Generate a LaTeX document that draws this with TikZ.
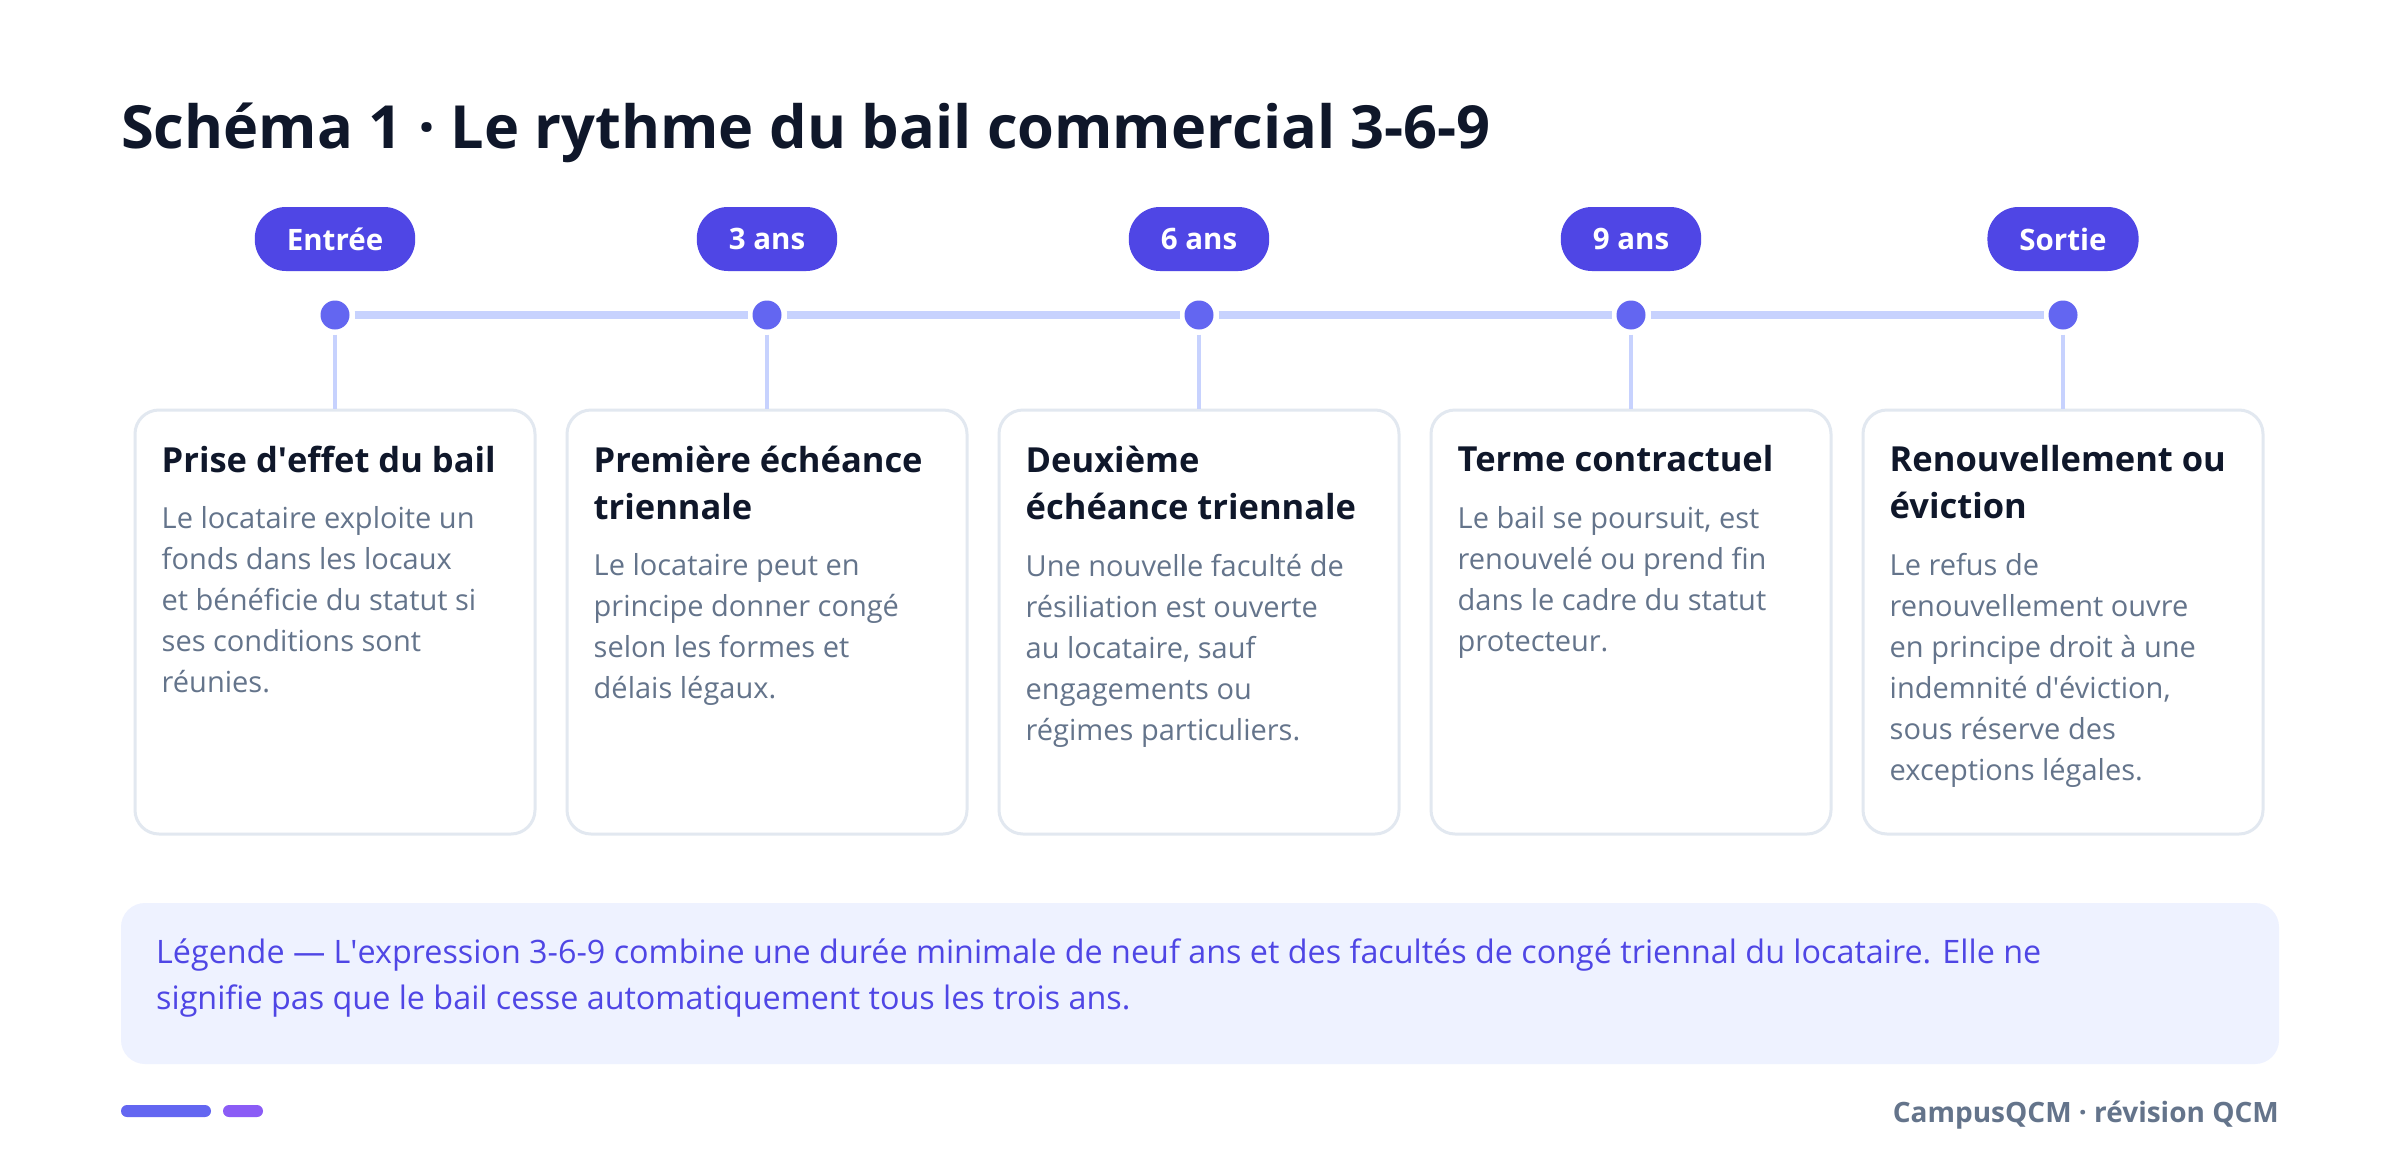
\documentclass[tikz,border=0pt]{standalone}
\usepackage{fontspec}
\setmainfont{Open Sans}
\usetikzlibrary{positioning}
\definecolor{brand}{HTML}{4F46E5}
\definecolor{dotfill}{HTML}{6366F1}
\definecolor{violet}{HTML}{8B5CF6}
\definecolor{track}{HTML}{C7D2FE}
\definecolor{cardline}{HTML}{E2E8F0}
\definecolor{ink}{HTML}{0F172A}
\definecolor{muted}{HTML}{64748B}
\definecolor{legendfill}{HTML}{EEF2FF}
\tikzset{
    % Page title
    page title/.style={
        inner sep=0pt,
        font=\fontsize{59.5}{64}\selectfont\bfseries,
        text=ink
    },
    % Milestone pill
    pill/.style={
        rectangle,
        rounded corners=31pt,
        minimum height=64pt,
        inner xsep=32pt,
        inner ysep=0pt,
        fill=brand,
        text=white,
        font=\fontsize{29.5}{34}\selectfont\bfseries
    },
    % Timeline dot
    milestone/.style={
        circle,
        minimum size=29pt,
        inner sep=0pt,
        outer sep=5pt,
        fill=dotfill
    },
    % Timeline track and stems
    track line/.style={
        line width=8pt,
        color=track
    },
    stem/.style={
        line width=4pt,
        color=track
    },
    % Step card
    card/.style={
        rectangle,
        rounded corners=24pt,
        minimum width=400pt,
        minimum height=424pt,
        draw=cardline,
        fill=white,
        line width=3pt
    },
    card title/.style={
        anchor=north west,
        inner sep=0pt,
        align=left,
        font=\fontsize{34.5}{47}\selectfont\bfseries,
        text=ink
    },
    card text/.style={
        inner sep=0pt,
        align=left,
        font=\fontsize{29}{41}\selectfont,
        text=muted
    },
    % Legend
    legend box/.style={
        rectangle,
        rounded corners=24pt,
        minimum width=2158pt,
        minimum height=161pt,
        fill=legendfill
    },
    legend text/.style={
        anchor=west,
        inner sep=0pt,
        align=left,
        font=\fontsize{32.3}{46}\selectfont,
        text=brand
    },
    % Footer
    bar/.style={
        rectangle,
        rounded corners=6pt,
        minimum height=12pt,
        inner sep=0pt
    },
    footer text/.style={
        anchor=base east,
        inner sep=0pt,
        font=\fontsize{28}{34}\selectfont\bfseries,
        text=muted
    }
}

\begin{document}
\begin{tikzpicture}[x=1pt, y=-1pt]
    \useasboundingbox[fill=white] (0,0) rectangle (2400,1172);

    % Title
    \node[page title, anchor=base west] (title) at (121,148) {Schéma 1 · Le rythme du bail commercial 3-6-9};

    % Milestone labels
    \node[pill] (p1) at (335,239) {Entrée};
    \node[pill] (p2) at (767,239) {3 ans};
    \node[pill] (p3) at (1199,239) {6 ans};
    \node[pill] (p4) at (1631,239) {9 ans};
    \node[pill] (p5) at (2063,239) {Sortie};

    % Timeline
    \node[milestone] (d1) at (335,315) {};
    \node[milestone] (d2) at (767,315) {};
    \node[milestone] (d3) at (1199,315) {};
    \node[milestone] (d4) at (1631,315) {};
    \node[milestone] (d5) at (2063,315) {};
    \draw[track line] (d1) -- (d2);
    \draw[track line] (d2) -- (d3);
    \draw[track line] (d3) -- (d4);
    \draw[track line] (d4) -- (d5);

    % Cards
    \node[card] (c1) at (335,622) {};
    \node[card] (c2) at (767,622) {};
    \node[card] (c3) at (1199,622) {};
    \node[card] (c4) at (1631,622) {};
    \node[card] (c5) at (2063,622) {};
    \draw[stem] (d1) -- (c1);
    \draw[stem] (d2) -- (c2);
    \draw[stem] (d3) -- (c3);
    \draw[stem] (d4) -- (c4);
    \draw[stem] (d5) -- (c5);

    % Card contents
    \node[card title] (t1) at ([xshift=28pt, yshift=-37pt]c1.north west) {Prise d\textquotesingle effet du bail};
    \node[card text, below right=34pt and 0pt of t1.south west] (b1) {Le locataire exploite un\\fonds dans les locaux\\et bénéficie du statut si\\ses conditions sont\\réunies.};

    \node[card title] (t2) at ([xshift=28pt, yshift=-37pt]c2.north west) {Première échéance\\triennale};
    \node[card text, below right=34pt and 0pt of t2.south west] (b2) {Le locataire peut en\\principe donner congé\\selon les formes et\\délais légaux.};

    \node[card title] (t3) at ([xshift=28pt, yshift=-37pt]c3.north west) {Deuxième\\échéance triennale};
    \node[card text, below right=34pt and 0pt of t3.south west] (b3) {Une nouvelle faculté de\\résiliation est ouverte\\au locataire, sauf\\engagements ou\\régimes particuliers.};

    \node[card title] (t4) at ([xshift=28pt, yshift=-37pt]c4.north west) {Terme contractuel};
    \node[card text, below right=34pt and 0pt of t4.south west] (b4) {Le bail se poursuit, est\\renouvelé ou prend fin\\dans le cadre du statut\\protecteur.};

    \node[card title] (t5) at ([xshift=28pt, yshift=-37pt]c5.north west) {Renouvellement ou\\éviction};
    \node[card text, below right=34pt and 0pt of t5.south west] (b5) {Le refus de\\renouvellement ouvre\\en principe droit à une\\indemnité d\textquotesingle éviction,\\sous réserve des\\exceptions légales.};

    % Legend
    \node[legend box] (legend) at (1200,983.5) {};
    \node[legend text] (ltext) at (156,978) {Légende — L\textquotesingle expression 3-6-9 combine une durée minimale de neuf ans et des facultés de congé triennal du locataire. Elle ne\\signifie pas que le bail cesse automatiquement tous les trois ans.};

    % Footer
    \node[bar, fill=dotfill, minimum width=90pt] (bar1) at (166,1111) {};
    \node[bar, fill=violet, minimum width=40pt] (bar2) at (243,1111) {};
    \node[footer text] (credit) at (2279,1122) {CampusQCM · révision QCM};

\end{tikzpicture}
\end{document}
